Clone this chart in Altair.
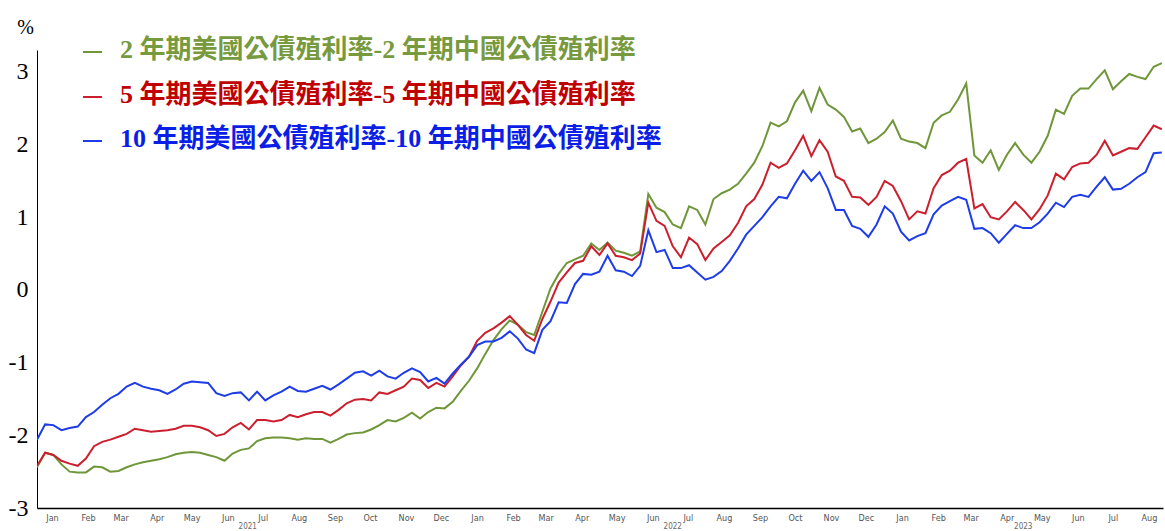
import altair as alt
import pandas as pd

# ---- data (weekly samples, %) ----
start_date = "2021-01-01"

spread_2y = [
    -2.44, -2.24, -2.27, -2.40, -2.50, -2.51, -2.51, -2.43, -2.44, -2.50,
    -2.49, -2.44, -2.40, -2.37, -2.35, -2.33, -2.30, -2.26, -2.24, -2.23,
    -2.24, -2.27, -2.30, -2.35, -2.25, -2.20, -2.18, -2.08, -2.04, -2.03,
    -2.03, -2.04, -2.06, -2.04, -2.05, -2.05, -2.10, -2.05, -1.99, -1.97,
    -1.96, -1.92, -1.86, -1.79, -1.81, -1.76, -1.69, -1.77, -1.68, -1.62,
    -1.63, -1.54, -1.39, -1.25, -1.08, -0.88, -0.69, -0.54, -0.42, -0.48,
    -0.58, -0.62, -0.30, 0.02, 0.22, 0.37, 0.42, 0.47, 0.64, 0.55,
    0.65, 0.54, 0.51, 0.47, 0.53, 1.32, 1.13, 1.07, 0.90, 0.85,
    1.15, 1.10, 0.90, 1.25, 1.33, 1.38, 1.46, 1.60, 1.75, 1.98,
    2.30, 2.25, 2.32, 2.58, 2.74, 2.46, 2.78, 2.55, 2.48, 2.38,
    2.18, 2.22, 2.02, 2.08, 2.17, 2.33, 2.08, 2.04, 2.02, 1.95,
    2.30, 2.40, 2.45, 2.62, 2.84, 1.85, 1.75, 1.92, 1.65, 1.86,
    2.02, 1.86, 1.75, 1.90, 2.12, 2.48, 2.42, 2.67, 2.77, 2.77,
    2.90, 3.02, 2.76, 2.87, 2.97, 2.93, 2.90, 3.07, 3.12,
]

spread_5y = [
    -2.42, -2.24, -2.27, -2.35, -2.39, -2.42, -2.32, -2.15, -2.09, -2.06,
    -2.02, -1.98, -1.91, -1.93, -1.95, -1.94, -1.93, -1.91, -1.87, -1.87,
    -1.89, -1.93, -2.01, -1.98, -1.89, -1.83, -1.92, -1.79, -1.79, -1.81,
    -1.79, -1.72, -1.75, -1.71, -1.68, -1.68, -1.73, -1.65, -1.56, -1.51,
    -1.50, -1.52, -1.41, -1.43, -1.38, -1.33, -1.22, -1.24, -1.35, -1.28,
    -1.33, -1.19, -1.04, -0.92, -0.70, -0.59, -0.53, -0.45, -0.36, -0.48,
    -0.62, -0.70, -0.40, -0.16, 0.10, 0.24, 0.37, 0.40, 0.60, 0.48,
    0.64, 0.47, 0.45, 0.41, 0.50, 1.20, 0.95, 0.88, 0.60, 0.45,
    0.72, 0.63, 0.41, 0.57, 0.66, 0.75, 0.92, 1.15, 1.25, 1.45,
    1.75, 1.68, 1.74, 1.92, 2.12, 1.84, 2.06, 1.90, 1.56, 1.50,
    1.28, 1.27, 1.17, 1.28, 1.50, 1.43, 1.22, 0.97, 1.08, 1.05,
    1.40, 1.58, 1.64, 1.75, 1.80, 1.12, 1.18, 1.00, 0.97, 1.08,
    1.21, 1.10, 0.97, 1.11, 1.30, 1.60, 1.52, 1.69, 1.74, 1.75,
    1.86, 2.05, 1.85, 1.90, 1.95, 1.94, 2.10, 2.26, 2.21,
]

spread_10y = [
    -2.06, -1.85, -1.86, -1.93, -1.90, -1.88, -1.75, -1.68, -1.58, -1.49,
    -1.43, -1.33, -1.28, -1.33, -1.36, -1.38, -1.43, -1.37, -1.29, -1.26,
    -1.27, -1.28, -1.42, -1.46, -1.42, -1.41, -1.52, -1.40, -1.52, -1.45,
    -1.40, -1.33, -1.39, -1.40, -1.36, -1.32, -1.37, -1.30, -1.22, -1.14,
    -1.12, -1.18, -1.11, -1.19, -1.22, -1.14, -1.08, -1.13, -1.26, -1.21,
    -1.29, -1.15, -1.03, -0.92, -0.76, -0.71, -0.71, -0.66, -0.57, -0.67,
    -0.82, -0.87, -0.55, -0.43, -0.17, -0.18, 0.08, 0.22, 0.21, 0.25,
    0.47, 0.27, 0.25, 0.19, 0.33, 0.82, 0.52, 0.55, 0.30, 0.30,
    0.34, 0.24, 0.14, 0.18, 0.26, 0.40, 0.57, 0.76, 0.88, 1.00,
    1.15, 1.28, 1.26, 1.46, 1.64, 1.50, 1.62, 1.40, 1.10, 1.10,
    0.88, 0.84, 0.73, 0.90, 1.15, 1.05, 0.80, 0.68, 0.74, 0.78,
    1.04, 1.16, 1.22, 1.28, 1.24, 0.84, 0.85, 0.78, 0.65, 0.77,
    0.89, 0.85, 0.85, 0.93, 1.05, 1.20, 1.14, 1.28, 1.31, 1.28,
    1.42, 1.55, 1.38, 1.39, 1.46, 1.55, 1.62, 1.88, 1.89,
]

series_names = [
    "2 年期美國公債殖利率-2 年期中國公債殖利率",
    "5 年期美國公債殖利率-5 年期中國公債殖利率",
    "10 年期美國公債殖利率-10 年期中國公債殖利率",
]
line_colors = ["#70963a", "#cc1f2e", "#1e3ce8"]
text_colors = ["#779a3e", "#c00000", "#0a1ee6"]

y_ticks = [-3, -2, -1, 0, 1, 2, 3]
year_labels = ["2021", "2022", "2023"]
year_centers = ["2021-07-01", "2022-07-01", "2023-04-28"]

# ---- build table ----
dates = pd.date_range(start_date, periods=len(spread_2y), freq="7D")
frames = []
for order, (name, vals) in enumerate(zip(series_names, [spread_2y, spread_5y, spread_10y])):
    frames.append(pd.DataFrame({"date": dates, "value": vals, "series": name, "order": order}))
df = pd.concat(frames, ignore_index=True)

W, H = 1126, 458
serif = "Liberation Serif, Times New Roman, Noto Sans CJK TC, serif"
narrow = "Liberation Sans Narrow, DejaVu Sans Condensed, sans-serif"

x_scale = alt.Scale(domain=["2021-01-01", "2023-08-26"], nice=False)
y_scale = alt.Scale(domain=[-3, 3.3], nice=False, zero=False)

x_axis = alt.Axis(
    title=None,
    format="%b",
    tickCount=alt.TimeIntervalStep(interval="month", step=1),
    labelOffset=15,
    labelAlign="center",
    labelFontSize=9,
    labelFont=narrow,
    labelColor="#555555",
    labelOverlap=False,
    labelFlush=False,
    labelPadding=5,
    ticks=False,
    grid=False,
    domainColor="#000000",
    domainWidth=1.5,
)

lines = alt.Chart(df).mark_line(strokeWidth=2, clip=True).encode(
    x=alt.X("date:T", scale=x_scale, axis=x_axis),
    y=alt.Y(
        "value:Q",
        scale=y_scale,
        axis=alt.Axis(
            title="%",
            titleAngle=0,
            titleX=-12,
            titleY=-23,
            titleAlign="center",
            titleBaseline="middle",
            titleFont=serif,
            titleFontSize=20,
            titleFontWeight="normal",
            titleColor="#000000",
            values=y_ticks,
            labelExpr="'' + datum.value",
            labelFont=serif,
            labelFontSize=24,
            labelColor="#000000",
            labelPadding=9,
            ticks=False,
            grid=False,
            domainColor="#000000",
            domainWidth=1,
        ),
    ),
    color=alt.Color(
        "series:N",
        scale=alt.Scale(domain=series_names, range=line_colors),
        legend=None,
    ),
    detail="series:N",
    order="order:Q",
)

years_df = pd.DataFrame({"date": pd.to_datetime(year_centers), "label": year_labels})
years = alt.Chart(years_df).mark_text(
    fontSize=8, color="#666666", baseline="bottom", align="center", font=narrow,
).encode(
    x=alt.X("date:T", scale=x_scale, axis=x_axis),
    y=alt.value(H + 23),
    text="label:N",
)

legend_layers = []
legend_rows_y = [0, 45, 89]
for name, lc, tc, ry in zip(series_names, line_colors, text_colors, legend_rows_y):
    ldf = pd.DataFrame({"label": [name]})
    dash = alt.Chart(ldf).mark_rule(color=lc, strokeWidth=2).encode(
        x=alt.value(46), x2=alt.value(65), y=alt.value(ry + 2)
    )
    txt = alt.Chart(ldf).mark_text(
        align="left", baseline="middle", font=serif, fontSize=26,
        fontWeight="bold", color=tc,
    ).encode(x=alt.value(83), y=alt.value(ry), text="label:N")
    legend_layers += [dash, txt]

chart = alt.layer(lines, years, *legend_layers).properties(
    width=W,
    height=H,
    background="white",
    autosize=alt.AutoSizeParams(type="none"),
    padding={"left": 37, "top": 50, "right": 2, "bottom": 23},
).configure_view(strokeWidth=0)

chart.save("out.html", embed_options={"renderer": "svg", "actions": False})
